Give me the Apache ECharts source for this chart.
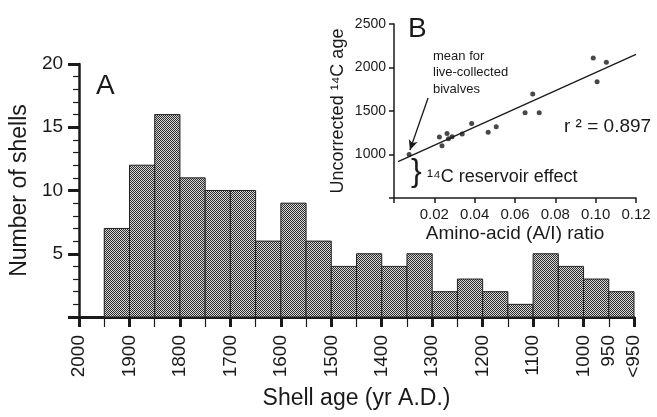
<!DOCTYPE html>
<html><head><meta charset="utf-8">
<script src="https://cdn.jsdelivr.net/npm/echarts@6/dist/echarts.min.js"></script>
</head>
<body style="margin:0;padding:0;background:#fff;">
<div id="chart" style="width:657px;height:417px;"></div>
<script>
// Panel A: histogram of shell ages (50-yr bins, last bin is "<950")
const binStart = [2000, 1950, 1900, 1850, 1800, 1750, 1700, 1650, 1600, 1550, 1500,
                  1450, 1400, 1350, 1300, 1250, 1200, 1150, 1100, 1050, 1000, 950];
const binEnd   = [1950, 1900, 1850, 1800, 1750, 1700, 1650, 1600, 1550, 1500, 1450,
                  1400, 1350, 1300, 1250, 1200, 1150, 1100, 1050, 1000, 950, 900];
const shellCounts = [0, 7, 12, 16, 11, 10, 10, 6, 9, 6, 4, 5, 4, 5, 2, 3, 2, 1, 5, 4, 3, 2];
const yearTicks = [2000, 1900, 1800, 1700, 1600, 1500, 1400, 1300, 1200, 1100, 1000, 950];

// Panel B: amino-acid ratio vs uncorrected 14C age
const aiRatio = [0.0075, 0.0225, 0.0238, 0.0263, 0.027, 0.0288, 0.0338, 0.0385,
                 0.0467, 0.0507, 0.065, 0.0688, 0.072, 0.0988, 0.1007, 0.1053];
const c14Age  = [1000, 1200, 1100, 1240, 1180, 1205, 1235, 1355,
                 1255, 1320, 1480, 1695, 1480, 2110, 1835, 2060];
const fitLine = [[0.002, 918], [0.12, 2150]];
const arrowFrom = [0.0169, 1649];
const arrowTo = [0.0079, 1052];

const FONT = '"Liberation Sans", Arial, sans-serif';
const INK = '#1a1a1a';

// checkered fill like the printed screen tone
const pat = document.createElement('canvas');
pat.width = 2; pat.height = 2;
const pc = pat.getContext('2d');
pc.fillStyle = '#d8d8d8'; pc.fillRect(0, 0, 2, 2);
pc.fillStyle = '#2b2b2b'; pc.fillRect(0, 0, 1, 1); pc.fillRect(1, 1, 1, 1);

const bins = binStart.map((s, i) => [s, binEnd[i], shellCounts[i]]);
const points = aiRatio.map((x, i) => [x, c14Age[i]]);

const chart = echarts.init(document.getElementById('chart'));
chart.setOption({
  animation: false,
  textStyle: { fontFamily: FONT, color: INK },
  grid: [
    { left: 79, right: 23, top: 64, bottom: 100 },
    { left: 394, right: 21, top: 24, bottom: 219 }
  ],
  xAxis: [
    {
      gridIndex: 0, type: 'value', min: 900, max: 2000, interval: 50, inverse: true,
      name: 'Shell age (yr A.D.)', nameLocation: 'middle', nameGap: 70,
      nameTextStyle: { fontSize: 23, color: INK, fontFamily: FONT },
      axisLine: { lineStyle: { color: INK, width: 3 } },
      axisTick: { length: 10, lineStyle: { color: INK, width: 1.2 } },
      axisLabel: {
        rotate: 90, margin: 18, fontSize: 19, color: INK, fontFamily: FONT,
        formatter: v => v === 900 ? '<950' : (yearTicks.includes(v) ? String(v) : '')
      },
      splitLine: { show: false }
    },
    {
      gridIndex: 0, type: 'value', min: 900, max: 2000, interval: 100, inverse: true,
      position: 'bottom',
      axisLine: { show: false },
      axisTick: { length: 10, lineStyle: { color: INK, width: 3 } },
      axisLabel: { show: false },
      splitLine: { show: false }
    },
    {
      gridIndex: 1, type: 'value', min: 0, max: 0.12, interval: 0.02,
      name: 'Amino-acid (A/I) ratio', nameLocation: 'middle', nameGap: 26,
      nameTextStyle: { fontSize: 19, color: INK, fontFamily: FONT },
      axisLine: { lineStyle: { color: INK, width: 1.5 } },
      axisTick: { length: 5, lineStyle: { color: INK, width: 1.5 } },
      axisLabel: {
        margin: 9, fontSize: 15, color: INK, fontFamily: FONT,
        formatter: v => v === 0 ? '' : v.toFixed(2)
      },
      splitLine: { show: false }
    }
  ],
  yAxis: [
    {
      gridIndex: 0, type: 'value', min: 0, max: 20, interval: 5,
      name: 'Number of shells', nameLocation: 'middle', nameGap: 44,
      nameTextStyle: { fontSize: 23, color: INK, fontFamily: FONT },
      axisLine: { lineStyle: { color: INK, width: 2.5 } },
      axisTick: { length: 11, lineStyle: { color: INK, width: 3 } },
      minorTick: { show: true, splitNumber: 5, length: 6, lineStyle: { color: INK, width: 1.2 } },
      axisLabel: {
        margin: 16, fontSize: 19, color: INK, fontFamily: FONT,
        formatter: v => v === 0 ? '' : String(v)
      },
      splitLine: { show: false }
    },
    {
      gridIndex: 1, type: 'value', min: 500, max: 2500, interval: 500,
      name: 'Uncorrected ¹⁴C age', nameLocation: 'middle', nameGap: 47,
      nameTextStyle: { fontSize: 18, color: INK, fontFamily: FONT },
      axisLine: { lineStyle: { color: INK, width: 1.5 } },
      axisTick: { length: 5, lineStyle: { color: INK, width: 1.5 } },
      axisLabel: {
        margin: 8, fontSize: 14, color: INK, fontFamily: FONT,
        formatter: v => v === 500 ? '' : String(v)
      },
      splitLine: { show: false }
    }
  ],
  series: [
    {
      type: 'custom', xAxisIndex: 0, yAxisIndex: 0, data: bins,
      renderItem: (params, api) => {
        const n = api.value(2);
        if (!n) return null;
        const p0 = api.coord([api.value(0), n]);
        const p1 = api.coord([api.value(1), 0]);
        return {
          type: 'rect',
          shape: { x: p0[0], y: p0[1], width: p1[0] - p0[0], height: p1[1] - p0[1] },
          style: { fill: { image: pat, repeat: 'repeat' }, stroke: '#222', lineWidth: 1 }
        };
      }
    },
    {
      type: 'line', xAxisIndex: 2, yAxisIndex: 1, data: fitLine,
      symbol: 'none', lineStyle: { color: INK, width: 1.3 }, silent: true
    },
    {
      type: 'scatter', xAxisIndex: 2, yAxisIndex: 1, data: points,
      symbolSize: 5, itemStyle: { color: INK },
      markLine: {
        silent: true, symbol: ['none', 'arrow'], symbolSize: [7, 10],
        label: { show: false },
        lineStyle: { color: INK, width: 1.3, type: 'solid' },
        data: [[{ coord: arrowFrom }, { coord: arrowTo }]]
      }
    }
  ],
  graphic: [
    { type: 'text', left: 96, top: 72, style: { text: 'A', font: '28px ' + FONT, fill: INK } },
    { type: 'text', left: 408, top: 15, style: { text: 'B', font: '28px ' + FONT, fill: INK } },
    { type: 'text', left: 433, top: 48, style: { text: 'mean for\nlive-collected\nbivalves', font: '13px ' + FONT, lineHeight: 16.5, fill: INK } },
    { type: 'text', left: 564, top: 117, style: { text: 'r ² = 0.897', font: '19px ' + FONT, fill: INK } },
    { type: 'text', left: 411, top: 156, style: { text: '}', font: '32px ' + FONT, fill: INK } },
    { type: 'text', left: 427, top: 168, style: { text: '¹⁴C reservoir effect', font: '18px ' + FONT, fill: INK } }
  ]
});
</script>
</body></html>
